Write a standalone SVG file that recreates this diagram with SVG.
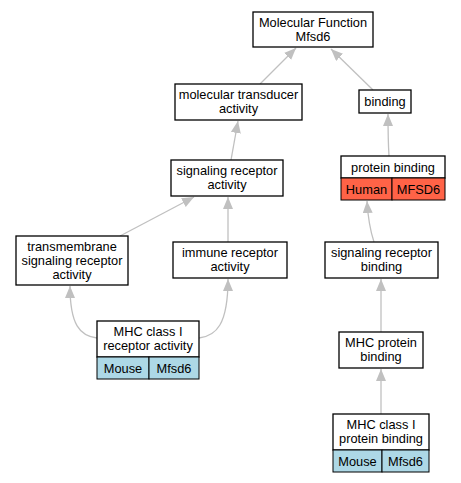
<svg xmlns="http://www.w3.org/2000/svg" width="461" height="483" viewBox="0 0 461 483">
<defs>
<marker id="ah" markerWidth="12" markerHeight="10" refX="12" refY="5" orient="auto" markerUnits="userSpaceOnUse" viewBox="0 0 12 10">
<path d="M0,0 L12,5 L0,10 Z" fill="#c0c0c0"/>
</marker>
<style>
.box{fill:#fff;stroke:#000;stroke-width:1.3}
.mouse{fill:#add8e6;stroke:#000;stroke-width:1}
.human{fill:#ff6347;stroke:#000;stroke-width:1}
text{font-family:"Liberation Sans",Arial,sans-serif;font-size:12.8px;text-anchor:middle;fill:#000}
.edge{fill:none;stroke:#c0c0c0;stroke-width:1.3;marker-end:url(#ah)}
</style>
</defs>
<rect width="461" height="483" fill="#fff"/>
<g id="edges">
<path class="edge" d="M260,84 L296,48"/>
<path class="edge" d="M373,90 L331,49"/>
<path class="edge" d="M389,156 C388,140 388,128 388,114"/>
<path class="edge" d="M231,160 L238,121"/>
<path class="edge" d="M120,236 L194,197"/>
<path class="edge" d="M228,242 L228,197"/>
<path class="edge" d="M374,242 C370,230 368,218 367,201"/>
<path class="edge" d="M97,338 C80,336 70,325 70,286"/>
<path class="edge" d="M199,338 C216,336 228,325 228,279"/>
<path class="edge" d="M381,332 L381,279"/>
<path class="edge" d="M381,414 L381,369"/>
</g>
<g id="mf">
<rect class="box" x="253" y="12" width="120" height="35"/>
<text x="313" y="26.5">Molecular Function</text>
<text x="313" y="40.5">Mfsd6</text>
</g>
<g id="binding">
<rect class="box" x="359" y="90" width="52" height="23"/>
<text x="385" y="106">binding</text>
</g>
<g id="mta">
<rect class="box" x="175" y="84" width="127" height="36"/>
<text x="238.5" y="98.5">molecular transducer</text>
<text x="238.5" y="112.5">activity</text>
</g>
<g id="sra">
<rect class="box" x="171" y="160" width="112" height="36"/>
<text x="227" y="174.5">signaling receptor</text>
<text x="227" y="188.5">activity</text>
</g>
<g id="tsra">
<rect class="box" x="16" y="236" width="112" height="49"/>
<text x="72" y="250.5">transmembrane</text>
<text x="72" y="264.5">signaling receptor</text>
<text x="72" y="278.5">activity</text>
</g>
<g id="ira">
<rect class="box" x="173" y="242" width="114" height="36"/>
<text x="230" y="256.5">immune receptor</text>
<text x="230" y="270.5">activity</text>
</g>
<g id="pb">
<rect class="box" x="341" y="156" width="104" height="22"/>
<rect class="human" x="341" y="178" width="51" height="22"/>
<rect class="human" x="392" y="178" width="53" height="22"/>
<text x="393" y="171.5">protein binding</text>
<text x="366.5" y="193.5">Human</text>
<text x="418.5" y="193.5">MFSD6</text>
</g>
<g id="srb">
<rect class="box" x="325" y="242" width="113" height="36"/>
<text x="381.5" y="256.5">signaling receptor</text>
<text x="381.5" y="270.5">binding</text>
</g>
<g id="mhc1ra">
<rect class="box" x="97" y="321" width="102" height="36"/>
<rect class="mouse" x="97" y="357" width="52" height="22"/>
<rect class="mouse" x="149" y="357" width="50" height="22"/>
<text x="148" y="335.5">MHC class I</text>
<text x="148" y="349.5">receptor activity</text>
<text x="123" y="372.5">Mouse</text>
<text x="174" y="372.5">Mfsd6</text>
</g>
<g id="mhcpb">
<rect class="box" x="339" y="332" width="84" height="36"/>
<text x="381" y="346.5">MHC protein</text>
<text x="381" y="360.5">binding</text>
</g>
<g id="mhc1pb">
<rect class="box" x="333" y="414" width="96" height="36"/>
<rect class="mouse" x="333" y="450" width="49" height="22"/>
<rect class="mouse" x="382" y="450" width="47" height="22"/>
<text x="381" y="428.5">MHC class I</text>
<text x="381" y="442.5">protein binding</text>
<text x="357.5" y="465.5">Mouse</text>
<text x="405.5" y="465.5">Mfsd6</text>
</g>
</svg>
